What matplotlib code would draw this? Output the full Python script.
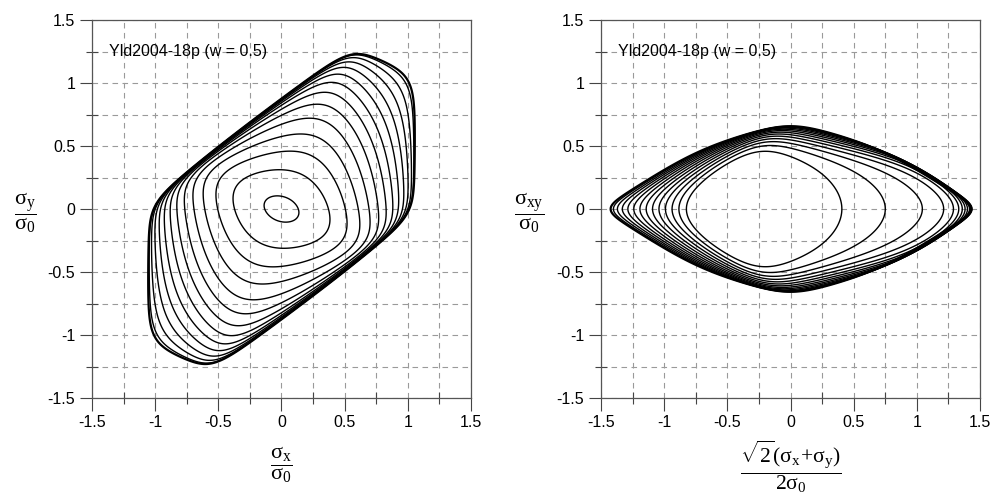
import numpy as np
import matplotlib.pyplot as plt
from matplotlib.ticker import MultipleLocator

plt.rcParams['font.family'] = 'Liberation Sans'
plt.rcParams['mathtext.fontset'] = 'custom'
plt.rcParams['mathtext.rm'] = 'Liberation Serif'
plt.rcParams['mathtext.it'] = 'Liberation Serif:italic'
plt.rcParams['axes.unicode_minus'] = False

# -----------------------------
# points (normalised stresses)
# -----------------------------
# outer locus of the left panel (sigma_xy = 0): sigma_x, sigma_y
locus_sx = [1.01, 1.03, 1.065, 1.06, 1.00, 0.75, 0.54, 0.25, 0.00, -0.25, -0.50, -0.86, -1.00]
locus_sy = [0.00, 0.28, 0.50, 0.68, 1.05, 1.19, 1.227, 1.074, 0.86, 0.69, 0.48, 0.20, 0.05]

# outer locus of the right panel (sigma_x = sigma_y): p = sqrt2*(sx+sy)/2, sigma_xy
outer_p = [0.0, 0.5, -0.5, 1.0, -1.0, 1.25, -1.25, 1.43, -1.415]
outer_t = [0.657, 0.55, 0.55, 0.29, 0.30, 0.155, 0.155, 0.0, 0.0]

# inner sections of the left panel: sigma_x, sigma_y, sigma_xy
inner_sx = [0.138, 0.0, 0.34, 0.0, 0.52, 0.0, 0.43, -0.43, 0.62, 0.0, 0.69, 0.0, 0.74, 0.0]
inner_sy = [0.0, 0.098, 0.0, 0.28, 0.0, 0.43, 0.36, 0.34, 0.0, 0.56, 0.0, 0.67, 0.0, 0.75]
inner_t = [0.65, 0.65, 0.60, 0.60, 0.55, 0.55, 0.55, 0.55, 0.50, 0.50, 0.45, 0.45, 0.40, 0.40]
inner_w = [4.0, 4.0, 3.0, 3.0, 2.0, 2.0, 2.0, 2.0, 1.5, 1.5, 1.0, 1.0, 1.0, 1.0]

# contour levels: sigma_xy (left) and (sigma_y - sigma_x)/sqrt2 (right)
shear_levels = [0.0, 0.05, 0.10, 0.15, 0.20, 0.25, 0.30, 0.35, 0.40, 0.45, 0.50, 0.55, 0.60, 0.65]
diff_levels = [0.0, 0.05, 0.10, 0.15, 0.20, 0.25, 0.30, 0.35, 0.40, 0.45, 0.50, 0.55, 0.60, 0.65]

# Yld2004-18p plane-stress coefficients used as starting point
# order: c12, c13, c21, c23, c31, c32, c66
c_prime = [-0.069888, 0.936408, 0.079143, 1.003060, 0.524741, 1.363180, 0.66]
c_dprime = [0.981171, 0.476741, 0.575316, 0.866827, 1.145010, -0.079294, 0.97]
exponent = 8.0

label_text = "Yld2004-18p (w = 0.5)"
ticks = [-1.5, -1, -0.5, 0, 0.5, 1, 1.5]
tick_labels = ["-1.5", "-1", "-0.5", "0", "0.5", "1", "1.5"]


def principal(c, sx, sy, sz, sxy):
    c12, c13, c21, c23, c31, c32, c66 = c
    txx = -c12 * sy - c13 * sz
    tyy = -c21 * sx - c23 * sz
    tzz = -c31 * sx - c32 * sy
    txy = c66 * sxy
    m = 0.5 * (txx + tyy)
    r = np.sqrt((0.5 * (txx - tyy)) ** 2 + txy ** 2)
    return [m + r, m - r, tzz]


def yld(prm, sig_x, sig_y, sig_xy):
    e = prm[14]
    sx = (2 * sig_x - sig_y) / 3.0
    sy = (2 * sig_y - sig_x) / 3.0
    sz = -(sig_x + sig_y) / 3.0
    s1 = principal(prm[0:7], sx, sy, sz, sig_xy)
    s2 = principal(prm[7:14], sx, sy, sz, sig_xy)
    phi = 0.0
    for a in s1:
        for b in s2:
            phi = phi + np.abs(a - b) ** e
    return (phi / 4.0) ** (1.0 / e)


fit_sx = np.array(locus_sx + [p / np.sqrt(2) for p in outer_p] + inner_sx)
fit_sy = np.array(locus_sy + [p / np.sqrt(2) for p in outer_p] + inner_sy)
fit_t = np.array([0.0] * len(locus_sx) + outer_t + inner_t)
fit_w = np.array([2.5] * len(locus_sx) + [2.0] * len(outer_p) + inner_w)


def cost(prm):
    prm = np.array(prm, dtype=float)
    prm[14] = np.clip(prm[14], 2.0, 14.0)
    res = yld(prm, fit_sx, fit_sy, fit_t) - 1.0
    return float(np.sum(fit_w * res ** 2))


def nelder_mead(f, x0, step=0.1, iters=5000):
    n = len(x0)
    pts = [np.array(x0, dtype=float)]
    for i in range(n):
        p = np.array(x0, dtype=float)
        p[i] += step if i < n - 1 else 1.0
        pts.append(p)
    vals = [f(p) for p in pts]
    for _ in range(iters):
        order = np.argsort(vals)
        pts = [pts[i] for i in order]
        vals = [vals[i] for i in order]
        cen = np.mean(pts[:-1], axis=0)
        xr = cen + (cen - pts[-1])
        fr = f(xr)
        if fr < vals[0]:
            xe = cen + 2.0 * (cen - pts[-1])
            fe = f(xe)
            if fe < fr:
                pts[-1], vals[-1] = xe, fe
            else:
                pts[-1], vals[-1] = xr, fr
        elif fr < vals[-2]:
            pts[-1], vals[-1] = xr, fr
        else:
            xc = cen + 0.5 * (pts[-1] - cen)
            fc = f(xc)
            if fc < vals[-1]:
                pts[-1], vals[-1] = xc, fc
            else:
                for i in range(1, len(pts)):
                    pts[i] = pts[0] + 0.5 * (pts[i] - pts[0])
                    vals[i] = f(pts[i])
    best = int(np.argmin(vals))
    return pts[best]


start = np.array(c_prime + c_dprime + [exponent])
f0 = yld(start, 1.0, 0.0, 0.0)
start[:14] = start[:14] / f0
prm = nelder_mead(cost, start, step=0.1, iters=6000)
for _ in range(3):
    prm = nelder_mead(cost, prm, step=0.04, iters=5000)
prm[14] = np.clip(prm[14], 2.0, 14.0)

fig = plt.figure(figsize=(10.03, 4.96), dpi=100)
W, H = 1003.0, 496.0
ax1 = fig.add_axes([92 / W, 98 / H, 379 / W, 378 / H])
ax2 = fig.add_axes([601 / W, 98 / H, 379 / W, 378 / H])

for ax in (ax1, ax2):
    ax.set_xlim(-1.5, 1.5)
    ax.set_ylim(-1.5, 1.5)
    ax.xaxis.set_minor_locator(MultipleLocator(0.25))
    ax.yaxis.set_minor_locator(MultipleLocator(0.25))
    ax.set_xticks(ticks)
    ax.set_xticklabels(tick_labels)
    ax.set_yticks(ticks)
    ax.set_yticklabels(tick_labels)
    ax.grid(which="both", ls=(0, (5, 4)), color="#9a9a9a", lw=0.8)
    ax.set_axisbelow(True)
    ax.tick_params(which="major", direction="out", length=9, width=0.8,
                   color="#444444", labelsize=11.5, pad=3)
    ax.tick_params(which="minor", direction="inout", length=9, width=0.8,
                   color="#444444")
    for sp in ax.spines.values():
        sp.set_color("#555555")
        sp.set_linewidth(0.9)
    ax.text(-1.365, 1.25, label_text, fontsize=11.5, ha="left", va="center")

# left: sections at constant shear stress
g = np.linspace(-1.6, 1.6, 701)
X, Y = np.meshgrid(g, g)
for k, tau in enumerate(shear_levels):
    F = yld(prm, X, Y, tau)
    ax1.contour(X, Y, F, levels=[1.0], colors="black",
                linewidths=1.6 if k == 0 else 1.0)

# right: sections at constant (sy - sx)/sqrt(2)
gp = np.linspace(-1.6, 1.6, 701)
gt = np.linspace(-1.0, 1.0, 501)
P, T = np.meshgrid(gp, gt)
for k, q in enumerate(diff_levels):
    sx = (P - q) / np.sqrt(2)
    sy = (P + q) / np.sqrt(2)
    F = yld(prm, sx, sy, T)
    ax2.contour(P, T, F, levels=[1.0], colors="black",
                linewidths=1.6 if k == 0 else 1.0)

# axis labels as fractions
fig.text(25.5 / W, 1 - 213 / H, r"$\dfrac{\mathrm{σ_y}}{\mathrm{σ_0}}$",
         fontsize=16, ha="center", va="center")
fig.text(281.5 / W, 1 - 465 / H, r"$\dfrac{\mathrm{σ_x}}{\mathrm{σ_0}}$",
         fontsize=16, ha="center", va="center")
fig.text(529 / W, 1 - 213 / H, r"$\dfrac{\mathrm{σ_{xy}}}{\mathrm{σ_0}}$",
         fontsize=16, ha="center", va="center")
fig.text(790.5 / W, 1 - 467 / H,
         r"$\dfrac{\sqrt{2}\mathrm{(σ_x\!+\!σ_y)}}{\mathrm{2σ_0}}$",
         fontsize=15.5, ha="center", va="center")

fig.savefig("out.png", dpi=100)
